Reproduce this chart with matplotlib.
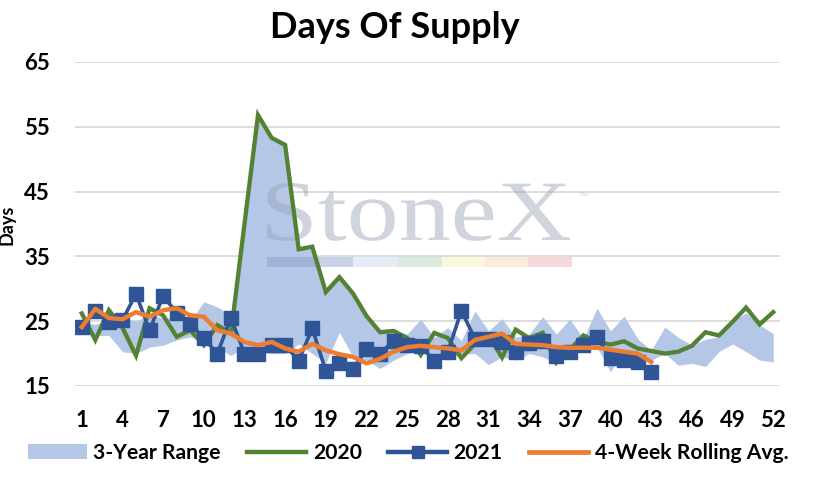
import numpy as np
import matplotlib
matplotlib.use("Agg")
from matplotlib import pyplot as plt
from matplotlib.patches import Rectangle, PathPatch
from matplotlib.lines import Line2D
from matplotlib.textpath import TextPath
from matplotlib.font_manager import FontProperties
from matplotlib.transforms import Affine2D

plt.rcParams['font.family'] = ['Lato', 'DejaVu Sans']
plt.rcParams['font.weight'] = 'bold'

# week numbers
weeks = np.arange(1, 53)
weeks_2021 = np.arange(1, 44)

# 3-year range band
range_low = [23.1, 22.8, 22.8, 20.3, 20.0, 21.0, 21.3, 22.1, 22.6, 21.8, 21.0, 19.7,
             21.0, 20.3, 20.0, 20.0, 21.5, 20.0, 18.5, 23.3, 19.5, 19.0, 17.7, 19.0,
             20.0, 20.5, 19.5, 19.0, 20.0, 20.0, 18.3, 19.5, 19.0, 20.0, 19.5, 18.5,
             20.0, 20.5, 21.0, 17.2, 20.5, 20.0, 19.0, 20.0, 18.2, 18.5, 18.0, 20.3,
             21.5, 20.3, 19.0, 18.7]
range_high = [25.0, 24.5, 25.3, 25.5, 25.0, 26.0, 25.5, 25.5, 25.0, 28.0, 27.2, 26.0,
              40.0, 56.8, 53.3, 52.2, 36.2, 36.5, 29.5, 31.7, 29.3, 25.8, 23.5, 23.5,
              23.0, 25.3, 22.5, 24.0, 22.0, 26.6, 23.5, 25.4, 22.5, 23.0, 25.7, 23.0,
              25.3, 22.3, 27.0, 23.5, 25.8, 22.3, 20.5, 24.1, 22.5, 21.3, 22.2, 22.6,
              25.0, 26.3, 24.4, 23.1]

y2020 = [26.2, 22.1, 26.7, 24.0, 19.7, 27.0, 25.9, 22.6, 23.6, 21.3, 24.4, 23.1,
         40.0, 56.8, 53.3, 52.2, 36.1, 36.5, 29.5, 31.8, 29.3, 25.8, 23.3, 23.5,
         22.4, 19.8, 23.2, 22.4, 19.3, 21.5, 22.8, 19.4, 23.7, 22.4, 23.2, 18.6,
         20.6, 22.8, 21.8, 21.4, 21.9, 20.8, 20.4, 20.0, 20.3, 21.2, 23.3, 22.8,
         24.9, 27.1, 24.5, 26.4]

y2021 = [24.1, 26.6, 24.9, 25.2, 29.2, 23.6, 28.9, 26.3, 24.6, 22.4, 20.0, 25.5,
         20.0, 20.0, 21.3, 21.3, 18.9, 23.9, 17.3, 18.6, 17.6, 20.7, 20.0, 22.0,
         21.3, 21.2, 18.9, 20.3, 26.6, 22.3, 22.3, 21.8, 20.2, 21.6, 22.0, 19.6,
         20.2, 21.3, 22.5, 19.3, 19.0, 18.7, 17.1]

avg4 = [24.1, 26.9, 25.5, 25.3, 26.4, 25.7, 26.7, 27.0, 25.9, 25.7, 23.6, 23.1,
        21.8, 21.3, 21.8, 20.8, 20.3, 21.5, 20.5, 19.9, 19.5, 18.5, 19.2, 20.3,
        21.0, 21.2, 21.0, 20.8, 20.5, 22.1, 22.6, 23.1, 21.5, 21.4, 21.3, 21.0,
        20.9, 20.9, 20.9, 20.6, 20.3, 20.0, 18.7]

yticks = [15, 25, 35, 45, 55, 65]
xticks = np.arange(1, 53, 3)

c_band = '#b4c7e7'
c_2020 = '#548235'
c_2021 = '#2f5597'
c_avg = '#ed7d31'

W, H = 813, 479
fig = plt.figure(figsize=(W / 100, H / 100), dpi=100)
ax = fig.add_axes([75 / W, 1 - 386 / H, 705 / W, 324 / H])
px = Affine2D().scale(1 / W, 1 / H) + fig.transFigure  # pixel coords, origin bottom-left

ax.fill_between(weeks, range_low, range_high, color=c_band, lw=0, zorder=1)

# StoneX watermark, stretched to the box it fills in the original
tp = TextPath((0, 0), 'StoneX', size=100,
              prop=FontProperties(family='Liberation Serif', weight='normal'))
ext = tp.get_extents()
tf = Affine2D().translate(-ext.x0, 0).scale(303 / ext.width, 57 / ext.y1).translate(267, H - 240)
wm = PathPatch(tp, transform=tf + px, color='#9da5b6', alpha=0.48, lw=0, zorder=2)
wm.set_clip_on(False)
ax.add_patch(wm)
fig.text(584 / W, 1 - 194 / H, 'TM', ha='center', va='center', fontsize=5,
         color='#c8ccd4', fontweight='normal', family='Liberation Serif')
bar_cols = ['#8a9fc6', '#c4d6ea', '#b2d0bd', '#f6eeb4', '#f7d6ac', '#eaa9a9']
bar_x = [267, 353, 398, 442, 485, 528, 572]
for i, col in enumerate(bar_cols):
    r = Rectangle((bar_x[i], H - 267), bar_x[i + 1] - bar_x[i], 10, transform=px,
                  color=col, alpha=0.45, lw=0, zorder=2)
    r.set_clip_on(False)
    ax.add_patch(r)

ax.plot(weeks, y2020, color=c_2020, lw=3.1, zorder=3, solid_joinstyle='miter')
ax.plot(weeks_2021, y2021, color=c_2021, lw=2.6, marker='s', markersize=10,
        zorder=4, solid_joinstyle='miter')
ax.plot(weeks_2021, avg4, color=c_avg, lw=3.2, zorder=5)

ax.set_xlim(0.5, 52.5)
ax.set_ylim(15, 65)
ax.set_yticks(yticks)
ax.set_xticks(xticks)
ax.tick_params(length=0, labelsize=16)
ax.tick_params(axis='x', pad=17)
ax.tick_params(axis='y', pad=18)
ax.grid(axis='y', color='#d9d9d9', lw=1.3)
ax.set_axisbelow(True)
for s in ax.spines.values():
    s.set_visible(False)

fig.text(395 / W, 1 - 27 / H, 'Days Of Supply', ha='center', va='center',
         fontsize=26, fontweight='bold')
fig.text(7 / W, 1 - 225 / H, 'Days', rotation=90, ha='center', va='center',
         fontsize=13, fontweight='bold')

handles = [Rectangle((0, 0), 1, 1, color=c_band, lw=0),
           Line2D([], [], color=c_2020, lw=3.2),
           Line2D([], [], color=c_2021, lw=3.2, marker='s', markersize=8),
           Line2D([], [], color=c_avg, lw=3.4)]
labels = ['3-Year Range', '2020', '2021', '4-Week Rolling Avg.']
fig.legend(handles, labels, loc='center left', bbox_to_anchor=(28 / W, 1 - 453 / H),
           ncol=4, frameon=False, fontsize=15.2, handlelength=2.8, handletextpad=0.3,
           columnspacing=1.25, borderpad=0, borderaxespad=0)

fig.savefig('out.png', dpi=100)
